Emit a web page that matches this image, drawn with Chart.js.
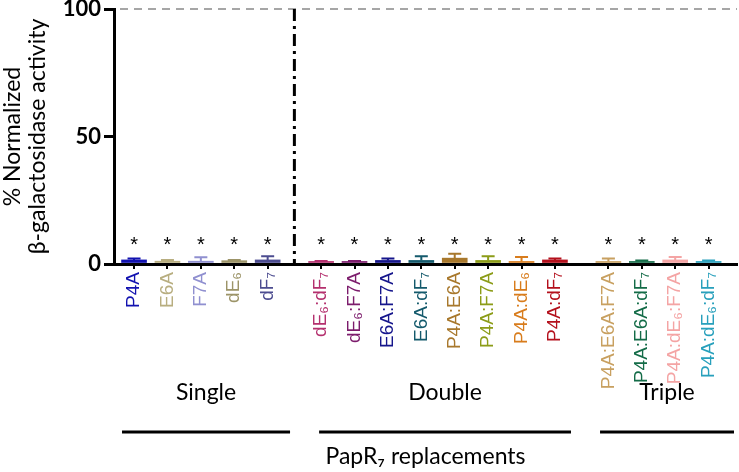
<!DOCTYPE html>
<html lang="en">
<head>
    <meta charset="UTF-8">
    <title>PapR7 replacements</title>
    <script src="https://cdn.jsdelivr.net/npm/chart.js"></script>
    <style>
        html, body { margin: 0; padding: 0; background: #fff; }
        #wrap { width: 739px; height: 472px; }
    </style>
</head>
<body>
    <div id="wrap"><canvas id="grafico"></canvas></div>

    <script>
        // mutant names, per group
        const singleLabels = ['P4A', 'E6A', 'F7A', 'dE₆', 'dF₇'];
        const doubleLabels = ['dE₆:dF₇', 'dE₆:F7A', 'E6A:F7A', 'E6A:dF₇', 'P4A:E6A', 'P4A:F7A', 'P4A:dE₆', 'P4A:dF₇'];
        const tripleLabels = ['P4A:E6A:F7A', 'P4A:E6A:dF₇', 'P4A:dE₆:F7A', 'P4A:dE₆:dF₇'];
        const groupNames = ['Single', 'Double', 'Triple'];

        // % normalized activity (mean) and SD
        const singleMean = [1.6, 1.1, 1.1, 1.3, 1.6];
        const singleSD = [0.6, 0.5, 1.5, 0.3, 1.4];
        const doubleMean = [1.0, 1.0, 1.4, 1.4, 2.3, 1.4, 1.0, 1.6];
        const doubleSD = [0.2, 0.2, 0.8, 1.6, 1.7, 1.6, 1.7, 0.6];
        const tripleMean = [1.0, 1.0, 1.6, 1.0];
        const tripleSD = [1.2, 0.4, 1.1, 0.4];

        const stars = ['*', '*', '*', '*', '*', '*', '*', '*', '*', '*', '*', '*', '*', '*', '*', '*', '*'];
        const yTicks = [0, 50, 100];

        const colores = [
            '#1212b0', '#b8ae80', '#9090d0', '#9c9468', '#4c4c90',
            '#b4306e', '#7c1c6c', '#16168c', '#145a6c', '#a8782c', '#8c9c18', '#d87c1c', '#b4101c',
            '#c8a060', '#146c48', '#f4a4a4', '#28a0bc'
        ];

        const grupos = [singleLabels, doubleLabels, tripleLabels];
        const labels = [].concat(singleLabels, doubleLabels, tripleLabels);
        const medias = [].concat(singleMean, doubleMean, tripleMean);
        const desv = [].concat(singleSD, doubleSD, tripleSD);

        // x position of each bar: one unit per bar, extra gap between groups
        const GAP = 0.6;
        const xPos = [];
        const rangos = [];
        let p = 0;
        grupos.forEach((g) => {
            const ini = p;
            g.forEach(() => { xPos.push(p); p += 1; });
            rangos.push([ini, p - 1]);
            p += GAP;
        });
        // how far each group underline reaches past its first / last bar
        const margenes = [[-0.36, 0.67], [-0.06, 0.48], [-0.25, 0.76]];

        const fuenteTexto = 'Lato, "Open Sans", sans-serif';

        const extras = {
            id: 'extras',
            beforeDatasetsDraw(chart) {
                const { ctx, chartArea, scales: { x, y } } = chart;
                ctx.save();
                // 100 % reference
                ctx.strokeStyle = '#a6a6a6';
                ctx.lineWidth = 2;
                ctx.setLineDash([8, 6]);
                ctx.beginPath();
                ctx.moveTo(chartArea.left + 6, y.getPixelForValue(100));
                ctx.lineTo(chartArea.right, y.getPixelForValue(100));
                ctx.stroke();
                // separator between single and double
                const xs = x.getPixelForValue((rangos[0][1] + rangos[1][0]) / 2);
                ctx.strokeStyle = '#000';
                ctx.lineWidth = 3;
                ctx.setLineDash([12, 5, 3, 5]);
                ctx.beginPath();
                ctx.moveTo(xs, y.getPixelForValue(100));
                ctx.lineTo(xs, y.getPixelForValue(0));
                ctx.stroke();
                ctx.restore();
            },
            afterDatasetsDraw(chart) {
                const { ctx, chartArea, scales: { x, y } } = chart;
                ctx.save();
                // error bars
                medias.forEach((m, i) => {
                    const cx = x.getPixelForValue(xPos[i]);
                    const y0 = y.getPixelForValue(m);
                    const y1 = y.getPixelForValue(m + desv[i]);
                    ctx.strokeStyle = colores[i];
                    ctx.lineWidth = 2;
                    ctx.beginPath();
                    ctx.moveTo(cx, y0);
                    ctx.lineTo(cx, y1);
                    ctx.moveTo(cx - 6.5, y1);
                    ctx.lineTo(cx + 6.5, y1);
                    ctx.stroke();
                });
                // significance
                ctx.fillStyle = '#000';
                ctx.font = '20px "Liberation Sans", Arial, sans-serif';
                ctx.textAlign = 'center';
                ctx.textBaseline = 'middle';
                stars.forEach((s, i) => {
                    ctx.fillText(s, x.getPixelForValue(xPos[i]), chartArea.bottom - 19);
                });
                // group names and underlines
                ctx.font = '23px ' + fuenteTexto;
                groupNames.forEach((n, gi) => {
                    const a = x.getPixelForValue(rangos[gi][0] + margenes[gi][0]);
                    const b = x.getPixelForValue(rangos[gi][1] + margenes[gi][1]);
                    ctx.fillText(n, (a + b) / 2, chartArea.bottom + 129);
                    ctx.lineWidth = 3;
                    ctx.strokeStyle = '#000';
                    ctx.beginPath();
                    ctx.moveTo(a, chartArea.bottom + 168);
                    ctx.lineTo(b, chartArea.bottom + 168);
                    ctx.stroke();
                });
                ctx.fillText('PapR₇ replacements', (chartArea.left + chartArea.right) / 2, chartArea.bottom + 193);
                ctx.restore();
            }
        };

        const ctx = document.getElementById('grafico').getContext('2d');
        new Chart(ctx, {
            type: 'bar',
            data: {
                datasets: [{
                    data: xPos.map((v, i) => ({ x: v, y: medias[i] })),
                    backgroundColor: colores,
                    borderWidth: 0,
                    barThickness: 25
                }]
            },
            options: {
                responsive: true,
                maintainAspectRatio: false,
                animation: false,
                layout: { padding: { top: 0, right: 2, bottom: 0, left: 0 } },
                plugins: {
                    legend: { display: false },
                    tooltip: { enabled: false }
                },
                scales: {
                    x: {
                        type: 'linear',
                        min: -0.6,
                        max: 18.05,
                        offset: false,
                        afterBuildTicks: (scale) => { scale.ticks = xPos.map(v => ({ value: v })); },
                        afterFit: (scale) => { scale.height = 208; },
                        grid: { offset: false, drawOnChartArea: false, drawTicks: true, tickLength: 5, color: '#000', lineWidth: 2 },
                        border: { color: '#000', width: 3 },
                        ticks: {
                            autoSkip: false,
                            minRotation: 90,
                            maxRotation: 90,
                            padding: 3,
                            font: { family: '"Liberation Sans", Arial, sans-serif', size: 19 },
                            color: (c) => colores[c.index],
                            callback: (v, i) => labels[i]
                        }
                    },
                    y: {
                        min: 0,
                        max: 100,
                        afterBuildTicks: (scale) => { scale.ticks = yTicks.map(v => ({ value: v })); },
                        afterFit: (scale) => { scale.width = 114; },
                        grid: { drawOnChartArea: false, drawTicks: true, tickLength: 10, color: '#000', lineWidth: 3 },
                        border: { color: '#000', width: 3 },
                        ticks: {
                            padding: 3,
                            color: '#000',
                            font: { family: fuenteTexto, size: 22, weight: 'bold', lineHeight: 0.55 }
                        },
                        title: {
                            display: true,
                            text: ['% Normalized', 'β-galactosidase activity'],
                            color: '#000',
                            font: { family: fuenteTexto, size: 23, lineHeight: 1.1 },
                            padding: { top: 0, bottom: 0 }
                        }
                    }
                }
            },
            plugins: [extras]
        });
    </script>
</body>
</html>
